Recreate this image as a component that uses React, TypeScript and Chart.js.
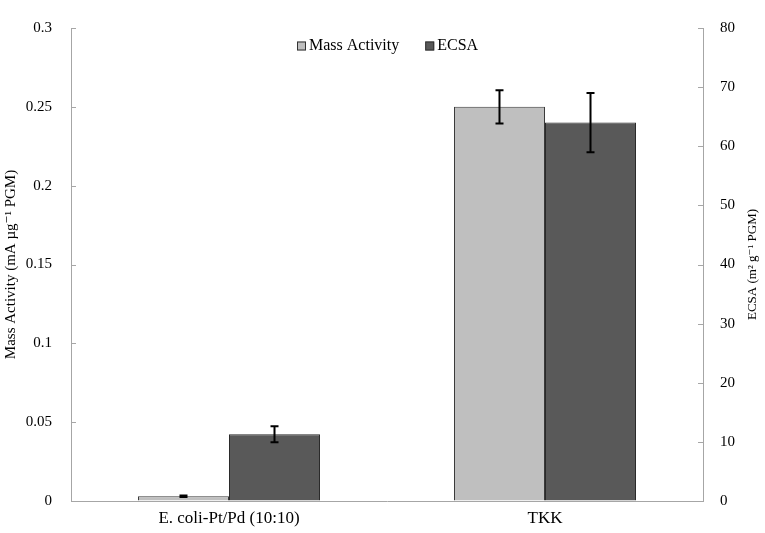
import { useEffect, useRef } from "react"
import { Chart, registerables } from "chart.js"

Chart.register(...registerables)

const categories = ["E. coli-Pt/Pd (10:10)", "TKK"]
const massActivity = [0.003, 0.25]
const massActivityErr = [0.0005, 0.0105]
const ecsa = [11.3, 64]
const ecsaErr = [1.35, 5]
const leftTicks = [0, 0.05, 0.1, 0.15, 0.2, 0.25, 0.3]
const rightTicks = [0, 10, 20, 30, 40, 50, 60, 70, 80]
const rightTitle = "ECSA (m² g⁻¹ PGM)"

const FONT = "'Liberation Serif', 'DejaVu Serif', serif"

// error bars, drawn from each dataset's own y scale
const errorBars = {
  id: "errorBars",
  afterDatasetsDraw(chart: any) {
    const ctx = chart.ctx
    chart.data.datasets.forEach((ds: any, i: number) => {
      const meta = chart.getDatasetMeta(i)
      const scale = chart.scales[ds.yAxisID]
      meta.data.forEach((bar: any, j: number) => {
        const v = ds.data[j]
        const e = ds.errors[j]
        const top = scale.getPixelForValue(v + e)
        const bottom = scale.getPixelForValue(v - e)
        ctx.save()
        ctx.strokeStyle = "#000"
        ctx.lineWidth = 2
        ctx.beginPath()
        ctx.moveTo(bar.x, top)
        ctx.lineTo(bar.x, bottom)
        ctx.moveTo(bar.x - 4, top)
        ctx.lineTo(bar.x + 4, top)
        ctx.moveTo(bar.x - 4, bottom)
        ctx.lineTo(bar.x + 4, bottom)
        ctx.stroke()
        ctx.restore()
      })
    })
  },
}

// tick marks pointing into the plot, plus the right axis title (reads upward)
const innerTicks = {
  id: "innerTicks",
  afterDraw(chart: any) {
    const ctx = chart.ctx
    const { left, right, top, bottom } = chart.chartArea
    ctx.save()
    ctx.strokeStyle = "#a6a6a6"
    ctx.lineWidth = 1
    ctx.beginPath()
    leftTicks.forEach((t) => {
      const y = Math.round(chart.scales.y.getPixelForValue(t)) + 0.5
      ctx.moveTo(left, y)
      ctx.lineTo(left + 5, y)
    })
    rightTicks.forEach((t) => {
      const y = Math.round(chart.scales.y1.getPixelForValue(t)) + 0.5
      ctx.moveTo(right, y)
      ctx.lineTo(right - 5, y)
    })
    ctx.stroke()

    ctx.translate(753, (top + bottom) / 2)
    ctx.rotate(-Math.PI / 2)
    ctx.font = `13px ${FONT}`
    ctx.fillStyle = "#000"
    ctx.textAlign = "center"
    ctx.textBaseline = "middle"
    ctx.fillText(rightTitle, 0, 0)
    ctx.restore()
  },
}

// legend sitting inside the plot, top centre
const innerLegend = {
  id: "innerLegend",
  afterDraw(chart: any) {
    const ctx = chart.ctx
    const y = 46
    let x = 297
    ctx.save()
    ctx.font = `16px ${FONT}`
    ctx.textBaseline = "middle"
    chart.data.datasets.forEach((ds: any) => {
      ctx.fillStyle = ds.backgroundColor
      ctx.fillRect(x, y - 4.5, 9, 9)
      ctx.strokeStyle = "#333"
      ctx.lineWidth = 1
      ctx.strokeRect(x + 0.5, y - 4, 8, 8)
      ctx.fillStyle = "#000"
      ctx.fillText(ds.label, x + 12, y)
      x += 12 + ctx.measureText(ds.label).width + 26
    })
    ctx.restore()
  },
}

export default function App() {
  const chartRef = useRef<HTMLCanvasElement>(null)
  const chartInstance = useRef<Chart | null>(null)

  useEffect(() => {
    document.body.style.margin = "0"
    if (!chartRef.current) return
    if (chartInstance.current) chartInstance.current.destroy()

    chartInstance.current = new Chart(chartRef.current, {
      type: "bar",
      data: {
        labels: categories,
        datasets: [
          {
            label: "Mass Activity",
            data: massActivity,
            errors: massActivityErr,
            yAxisID: "y",
            backgroundColor: "#bfbfbf",
            borderColor: "#3a3a3a",
            borderWidth: 1,
          } as any,
          {
            label: "ECSA",
            data: ecsa,
            errors: ecsaErr,
            yAxisID: "y1",
            backgroundColor: "#595959",
            borderColor: "#2a2a2a",
            borderWidth: 1,
          } as any,
        ],
      },
      options: {
        responsive: true,
        maintainAspectRatio: false,
        animation: false,
        layout: { padding: { top: 15 } },
        datasets: { bar: { categoryPercentage: 0.576, barPercentage: 1 } },
        plugins: { legend: { display: false }, tooltip: { enabled: false } },
        scales: {
          x: {
            grid: { display: true, drawOnChartArea: false, drawTicks: false },
            border: { color: "#a6a6a6" },
            ticks: { color: "#000", font: { family: FONT, size: 17 }, padding: 7 },
            afterFit: (s: any) => {
              s.height = 32
            },
          },
          y: {
            position: "left",
            min: 0,
            max: 0.3,
            afterBuildTicks: (s: any) => {
              s.ticks = leftTicks.map((value) => ({ value }))
            },
            grid: { display: true, drawOnChartArea: false, drawTicks: false },
            border: { color: "#a6a6a6" },
            ticks: {
              color: "#000",
              font: { family: FONT, size: 15 },
              padding: 19,
              callback: (v: any) => String(v),
            },
            title: {
              display: true,
              text: "Mass Activity (mA µg⁻¹ PGM)",
              color: "#000",
              font: { family: FONT, size: 15 },
              padding: { top: 2, bottom: 8 },
            },
            afterFit: (s: any) => {
              s.width = 71
            },
          },
          y1: {
            position: "right",
            min: 0,
            max: 80,
            afterBuildTicks: (s: any) => {
              s.ticks = rightTicks.map((value) => ({ value }))
            },
            grid: { display: true, drawOnChartArea: false, drawTicks: false },
            border: { color: "#a6a6a6" },
            ticks: { color: "#000", font: { family: FONT, size: 15 }, padding: 17 },
            afterFit: (s: any) => {
              s.width = 62
            },
          },
        },
      },
      plugins: [errorBars, innerTicks, innerLegend],
    })

    return () => {
      if (chartInstance.current) {
        chartInstance.current.destroy()
        chartInstance.current = null
      }
    }
  }, [])

  return (
    <div style={{ width: 765, height: 533, position: "relative" }}>
      <canvas ref={chartRef}></canvas>
    </div>
  )
}
